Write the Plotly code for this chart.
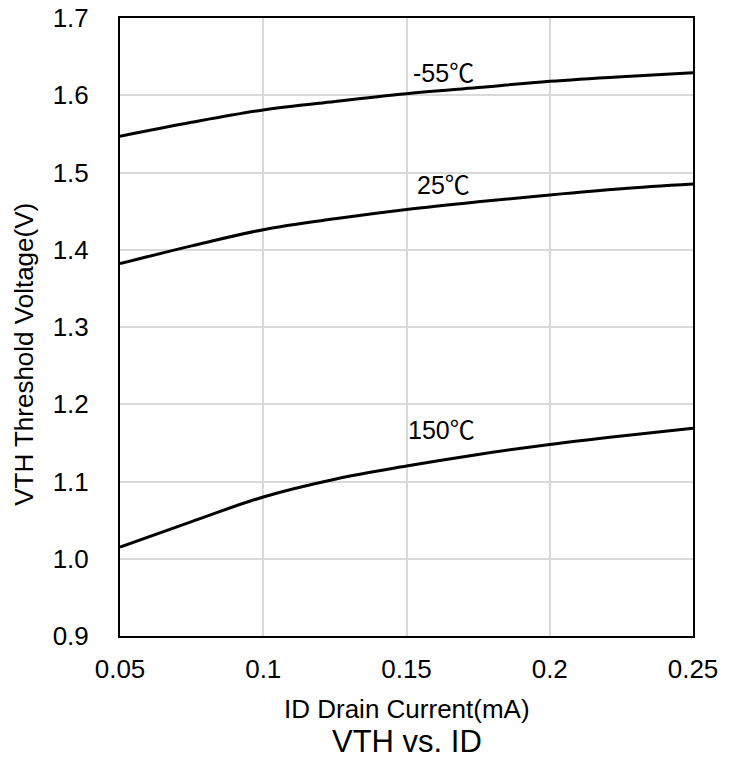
import plotly.graph_objects as go

id_ma = [0.05, 0.075, 0.1, 0.125, 0.15, 0.175, 0.2, 0.225, 0.25]
vth_m55 = [1.547, 1.565, 1.581, 1.592, 1.602, 1.610, 1.618, 1.624, 1.629]
vth_25 = [1.382, 1.405, 1.426, 1.440, 1.452, 1.462, 1.471, 1.479, 1.485]
vth_150 = [1.015, 1.048, 1.080, 1.103, 1.120, 1.135, 1.148, 1.159, 1.169]

labels = ["-55", "25", "150"]
unit = "℃"
label_x = [0.1634, 0.1634, 0.1627]
label_y = [1.632, 1.486, 1.169]

x_ticks = [0.05, 0.1, 0.15, 0.2, 0.25]
x_ticktext = ["0.05", "0.1", "0.15", "0.2", "0.25"]
y_ticks = [0.9, 1.0, 1.1, 1.2, 1.3, 1.4, 1.5, 1.6, 1.7]

FONT = "Liberation Sans, Arial, Noto Sans CJK SC, sans-serif"

fig = go.Figure()
for ys in (vth_m55, vth_25, vth_150):
    fig.add_trace(go.Scatter(x=id_ma, y=ys, mode="lines",
                             line=dict(color="black", width=3, shape="spline"),
                             showlegend=False, hoverinfo="skip"))

for t, lx, ly in zip(labels, label_x, label_y):
    txt = (t + "<span style='font-family:Noto Sans CJK SC;letter-spacing:2px'>"
           + unit + "</span>")
    fig.add_annotation(x=lx, y=ly, text=txt, showarrow=False, yanchor="middle",
                       xanchor="center",
                       font=dict(size=25, color="black", family=FONT))

# axis titles and chart title
fig.add_annotation(x=0.5, y=-0.118, xref="paper", yref="paper",
                   text="ID Drain Current(mA)", showarrow=False, yanchor="middle",
                   font=dict(size=26, color="black", family=FONT))
fig.add_annotation(x=-0.1675, y=0.455, xref="paper", yref="paper",
                   text="VTH Threshold Voltage(V)", showarrow=False, textangle=-90,
                   xanchor="center", yanchor="middle",
                   font=dict(size=26, color="black", family=FONT))
fig.add_annotation(x=0.5, y=-0.170, xref="paper", yref="paper", text="VTH vs. ID",
                   showarrow=False, yanchor="middle",
                   font=dict(size=31, color="black", family=FONT))

fig.update_layout(
    width=735, height=760,
    margin=dict(l=120, r=42, t=18, b=124, autoexpand=False),
    plot_bgcolor="white", paper_bgcolor="white",
    font=dict(family=FONT, color="black", size=26),
)
fig.update_xaxes(range=[0.05, 0.25], tickvals=x_ticks, ticktext=x_ticktext,
                 showgrid=True, gridcolor="#d9d9d9", gridwidth=2,
                 showline=True, linecolor="black", linewidth=2, mirror=True,
                 ticks="", ticklabelstandoff=9, zeroline=False,
                 tickfont=dict(size=26), automargin=False,
                 ticklabeloverflow="allow")
fig.update_yaxes(range=[0.9, 1.7], tickvals=y_ticks, tickformat=".1f",
                 showgrid=True, gridcolor="#d9d9d9", gridwidth=2,
                 showline=True, linecolor="black", linewidth=2, mirror=True,
                 ticks="", ticklabelstandoff=24, zeroline=False,
                 tickfont=dict(size=26), automargin=False,
                 ticklabeloverflow="allow")

fig.write_html("out.html", config={"displayModeBar": False},
               post_script="document.body.style.margin='0';document.body.style.overflow='hidden';")
